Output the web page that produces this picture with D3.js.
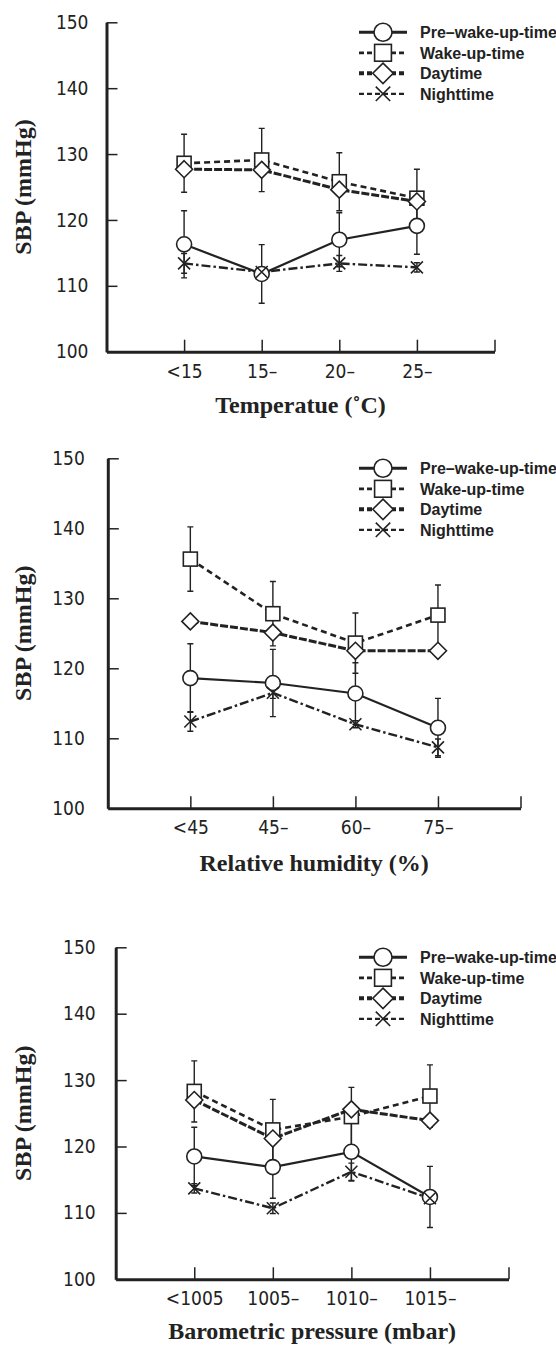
<!DOCTYPE html>
<html>
<head>
<meta charset="utf-8">
<script src="https://cdn.jsdelivr.net/npm/d3@7"></script>
<style>
  body { margin: 0; background: #fff; }
  .tick text { font-family: "Liberation Sans Narrow", "Arial Narrow", "DejaVu Sans Condensed", sans-serif; font-size: 19px; fill: #222; }
  .tick line { stroke: #222; stroke-width: 1.5; }
  .domain { stroke: #222; stroke-width: 3; }
</style>
</head>
<body>
<svg id="chart" width="556" height="1345"></svg>
<script>
// series + categories
var seriesNames = ["Pre\u2013wake-up-time", "Wake-up-time", "Daytime", "Nighttime"];
var tempCats = ["<15", "15\u2013", "20\u2013", "25\u2013"];
var humidCats = ["<45", "45\u2013", "60\u2013", "75\u2013"];
var pressCats = ["<1005", "1005\u2013", "1010\u2013", "1015\u2013"];
var yTicks = [100, 110, 120, 130, 140, 150];
var xTitles = ["Temperatue (\u02daC)", "Relative humidity (%)", "Barometric pressure (mbar)"];

// means per series (pre, wake, day, night) and SD (0 = no bar)
var tempMeans = [[116.3, 111.8, 117.0, 119.1], [128.6, 129.1, 125.8, 123.3], [127.7, 127.6, 124.6, 122.8], [113.4, 112.1, 113.4, 112.8]];
var tempSD = [[5.1, 4.45, 4.1, 4.3], [4.4, 4.8, 4.4, 4.4], [0, 0, 0, 0], [1.5, 0.5, 1.2, 0.7]];
var humidMeans = [[118.6, 117.9, 116.4, 111.5], [135.6, 127.8, 123.6, 127.6], [126.7, 125.1, 122.5, 122.5], [112.4, 116.5, 112.0, 108.7]];
var humidSD = [[4.9, 4.8, 4.4, 4.2], [4.6, 4.6, 4.3, 4.3], [0, 0, 0, 0], [1.4, 0.8, 0.5, 1.2]];
var pressMeans = [[118.5, 116.9, 119.2, 112.4], [128.3, 122.5, 124.5, 127.6], [127.0, 121.2, 125.6, 123.9], [113.7, 110.7, 116.2, 112.2]];
var pressSD = [[4.4, 4.7, 4.4, 4.6], [4.6, 4.6, 4.4, 4.7], [0, 0, 0, 0], [0.7, 0.8, 1.3, 0.5]];

var ink = "#222";
var svg = d3.select("#chart");

// where each panel sits
var frames = [
  {x0: 106.5, x1: 494.5, yTop: 22.3, yBot: 351.7, pad: 18, titleY: 413, cats: tempCats, means: tempMeans, sd: tempSD},
  {x0: 107.8, x1: 520.5, yTop: 458.3, yBot: 808.3, pad: 23, titleY: 871, cats: humidCats, means: humidMeans, sd: humidSD},
  {x0: 115.7, x1: 508.5, yTop: 947.3, yBot: 1279.3, pad: 20, titleY: 1339, cats: pressCats, means: pressMeans, sd: pressSD}
];

var styles = [
  {dash: null, w: 2.2, lw: 3},
  {dash: "6,4", w: 2.6, lw: 2.8},
  {dash: "8,2", w: 3, lw: 4},
  {dash: "9,3,2.5,3", w: 2.4, lw: 2.2}
];
var shapes = ["circle", "square", "diamond", "cross"];

function drawMarker(g, shape, cx, cy, s) {
  if (shape == "circle") {
    g.append("circle").attr("cx", cx).attr("cy", cy).attr("r", 7.5 * s)
      .attr("fill", "#fff").attr("stroke", ink).attr("stroke-width", 1.6);
  } else if (shape == "square") {
    var h = 7 * s;
    g.append("rect").attr("x", cx - h).attr("y", cy - h).attr("width", 2 * h).attr("height", 2 * h)
      .attr("fill", "#fff").attr("stroke", ink).attr("stroke-width", 1.6);
  } else if (shape == "diamond") {
    var d = 8.5 * s;
    g.append("path").attr("d", "M" + cx + "," + (cy - d) + "L" + (cx + d) + "," + cy + "L" + cx + "," + (cy + d) + "L" + (cx - d) + "," + cy + "Z")
      .attr("fill", "#fff").attr("stroke", ink).attr("stroke-width", 1.6);
  } else {
    var c = 6 * s;
    g.append("path").attr("d", "M" + (cx - c) + "," + (cy - c) + "L" + (cx + c) + "," + (cy + c) + "M" + (cx - c) + "," + (cy + c) + "L" + (cx + c) + "," + (cy - c))
      .attr("stroke", ink).attr("stroke-width", 1.6).attr("fill", "none");
  }
}

frames.forEach(function (f, p) {
  var x = d3.scaleLinear().domain([0, 5]).range([f.x0, f.x1]);
  var y = d3.scaleLinear().domain([100, 150]).range([f.yBot, f.yTop]);
  var g = svg.append("g");

  // axes
  g.append("g").attr("transform", "translate(" + f.x0 + ",0)")
    .call(d3.axisLeft(y).tickValues(yTicks).tickSize(-11).tickSizeOuter(0).tickPadding(f.pad));
  g.append("g").attr("transform", "translate(0," + f.yBot + ")")
    .call(d3.axisBottom(x).tickValues([1, 2, 3, 4, 5]).tickSize(-12).tickSizeOuter(0).tickPadding(12.5)
      .tickFormat(function (i) { return f.cats[i - 1] || ""; }));

  // titles
  g.append("text").attr("x", (f.x0 + f.x1) / 2).attr("y", f.titleY)
    .attr("text-anchor", "middle").attr("font-family", "Liberation Serif, Times New Roman, serif")
    .attr("font-weight", "bold").attr("font-size", 24).attr("fill", ink).text(xTitles[p]);
  g.append("text").attr("transform", "translate(23," + ((f.yTop + f.yBot) / 2) + ") rotate(-90)")
    .attr("text-anchor", "middle").attr("dy", "0.35em").attr("font-family", "Liberation Serif, Times New Roman, serif")
    .attr("font-weight", "bold").attr("font-size", 24).attr("fill", ink).text("SBP (mmHg)");

  // error bars first, markers cover them
  f.means.forEach(function (ser, s) {
    ser.forEach(function (m, i) {
      var sd = f.sd[s][i];
      if (!sd) return;
      var cx = x(i + 1), t = y(m + sd), b = y(m - sd);
      g.append("path").attr("d", "M" + cx + "," + t + "V" + b + "M" + (cx - 3) + "," + t + "H" + (cx + 3) + "M" + (cx - 3) + "," + b + "H" + (cx + 3))
        .attr("stroke", ink).attr("stroke-width", 1.4).attr("fill", "none");
    });
  });

  var line = d3.line().x(function (d, i) { return x(i + 1); }).y(function (d) { return y(d); });
  f.means.forEach(function (ser, s) {
    g.append("path").attr("d", line(ser)).attr("fill", "none").attr("stroke", ink)
      .attr("stroke-width", styles[s].w).attr("stroke-dasharray", styles[s].dash);
  });
  f.means.forEach(function (ser, s) {
    ser.forEach(function (m, i) { drawMarker(g, shapes[s], x(i + 1), y(m), 1); });
  });

  // legend
  var ly = f.yTop + 10;
  seriesNames.forEach(function (name, s) {
    var yy = ly + s * 20.5;
    g.append("line").attr("x1", 359).attr("x2", 407).attr("y1", yy).attr("y2", yy)
      .attr("stroke", ink).attr("stroke-width", styles[s].lw).attr("stroke-dasharray", styles[s].dash ? "5,3" : null);
    drawMarker(g, shapes[s], 383, yy, 1.2);
    g.append("text").attr("x", 420).attr("y", yy).attr("dy", "0.36em")
      .attr("font-family", "Liberation Sans, Arial, sans-serif").attr("font-weight", "bold")
      .attr("font-size", 16).attr("fill", ink).text(name);
  });
});
</script>
</body>
</html>
